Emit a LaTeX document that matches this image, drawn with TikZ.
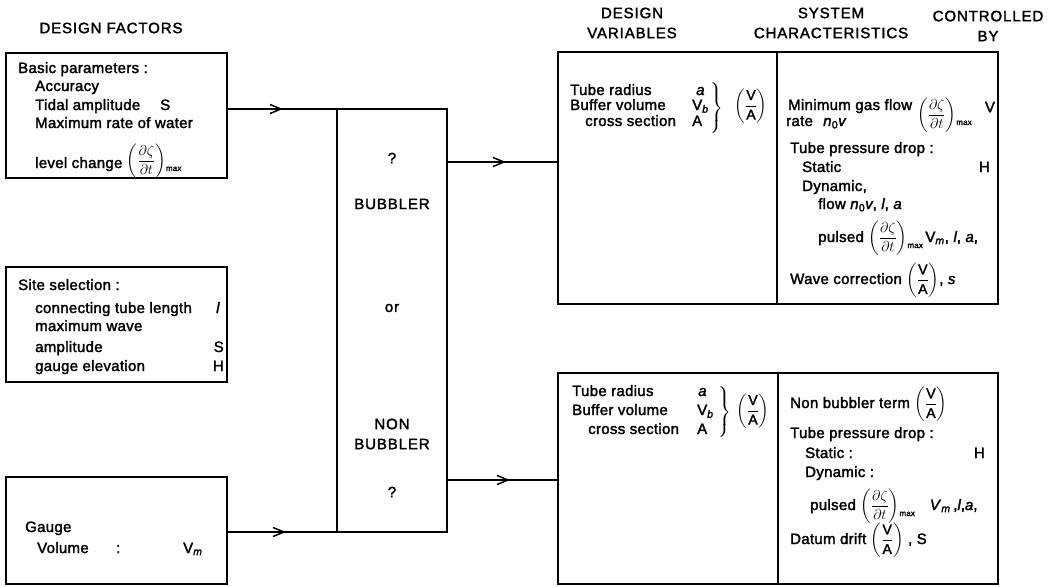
\documentclass[tikz,border=0pt]{standalone}
\usepackage{amsmath}
\usepackage{fontspec}
\setmainfont{Liberation Sans}[FakeBold=2]
\usetikzlibrary{arrows.meta}
\newcommand\mx{\raisebox{-6pt}{\fontsize{8}{8}\selectfont max}}
\newcommand\DZ{{\fontsize{14}{16}\selectfont$\left(\dfrac{\partial\zeta}{\partial t}\right)$}\mx}
\newcommand\VA{{\fontsize{14}{16}\selectfont$\left(\dfrac{\mbox{V}}{\mbox{A}}\right)$}}
\newcommand\ita[1]{\textit{#1}}
\begin{document}
\begin{tikzpicture}[x=1pt,y=-1pt,
  box/.style={draw, line width=2.3pt, inner sep=0pt, outer sep=0pt, anchor=north west},
  tx/.style={anchor=base west, inner sep=0pt, font=\fontsize{15}{18}\selectfont\addfontfeatures{LetterSpace=2}},
  tr/.style={tx, anchor=base east},
  tc/.style={tx, anchor=center},
  hd/.style={align=center, inner sep=0pt, font=\fontsize{15}{20}\selectfont\addfontfeatures{LetterSpace=6}},
  conn/.style={line width=1.1pt},
  head/.style={line width=1.1pt, -{Straight Barb[length=11pt,width=9pt,line width=1.5pt]}}]
\useasboundingbox (0,0) rectangle (1056,586);

% headers
\node[hd] (h1) at (111,28) {DESIGN FACTORS};
\node[hd] (h2) at (632,23) {DESIGN\\VARIABLES};
\node[hd] (h3) at (831,23) {SYSTEM\\CHARACTERISTICS};
\node[hd] (h4) at (988,26) {CONTROLLED\\BY};

% boxes
\node[box, minimum width=221pt, minimum height=125pt] (f1) at (6,53) {};
\node[box, minimum width=221pt, minimum height=115pt] (f2) at (6,267) {};
\node[box, minimum width=221pt, minimum height=107pt] (f3) at (6,477) {};
\node[box, minimum width=110pt, minimum height=423pt] (mid) at (337,109) {};
\node[box, minimum width=219pt, minimum height=252pt] (dv1) at (558,52) {};
\node[box, minimum width=221pt, minimum height=252pt] (sc1) at (777,52) {};
\node[box, minimum width=220pt, minimum height=211pt] (dv2) at (558,373) {};
\node[box, minimum width=220pt, minimum height=211pt] (sc2) at (778,373) {};

% connectors
\coordinate (a1) at (447,162);
\coordinate (a2) at (447,480);
\coordinate (m1) at (283,109);
\coordinate (m2) at (286,532);
\coordinate (m3) at (506,162);
\coordinate (m4) at (510,480);
\draw[conn] (f1.east |- mid.north west) -- (mid.north west);
\draw[head] (f1.east |- mid.north west) -- (m1);
\draw[conn] (f3.east |- mid.south west) -- (mid.south west);
\draw[head] (f3.east |- mid.south west) -- (m2);
\draw[conn] (a1) -- (dv1.west |- a1);
\draw[head] (a1) -- (m3);
\draw[conn] (a2) -- (dv2.west |- a2);
\draw[head] (a2) -- (m4);

% box 1
\node[tx] (t11) at (18,73) {Basic parameters :};
\node[tx] (t12) at (35,91) {Accuracy};
\node[tx] (t13) at (35,110) {Tidal amplitude};
\node[tx] (t13s) at (160,110) {S};
\node[tx] (t14) at (35,128) {Maximum rate of water};
\node[tx] (t15) at (35,168) {level change \raisebox{3pt}{\DZ}};

% box 2
\node[tx] (t21) at (18,290) {Site selection :};
\node[tx] (t22) at (35,313) {connecting tube length};
\node[tx] (t22l) at (216,313) {\ita{l}};
\node[tx] (t23) at (35,331) {maximum wave};
\node[tx] (t24) at (35,352) {amplitude};
\node[tr] (t24s) at (224,352) {S};
\node[tx] (t25) at (35,371) {gauge elevation};
\node[tr] (t25h) at (224,371) {H};

% box 3
\node[tx] (t31) at (25,532) {Gauge};
\node[tx] (t32) at (37,553) {Volume};
\node[tx] (t32c) at (116,553) {:};
\node[tx] (t32v) at (183,553) {V\textsubscript{\ita{m}}};

% middle box
\node[hd] (q1) at (392,158) {?};
\node[hd] (bub) at (392,204) {BUBBLER};
\node[hd] (or) at (392,308) {or};
\node[hd] (nbub) at (392,434) {NON\\BUBBLER};
\node[hd] (q2) at (392,492) {?};

% design variables, top
\node[tx] (u1) at (570,95) {Tube radius};
\node[tx] (u1a) at (696,95) {\ita{a}};
\node[tx] (u2) at (570,110) {Buffer volume};
\node[tx] (u2v) at (692,110) {V\textsubscript{\ita{b}}};
\node[tx] (u3) at (585,126) {cross section};
\node[tx] (u3a) at (692,126) {A};
\node[tc] (u4) at (716,108) {$\left.\vrule height 22pt depth 22pt width 0pt\right\}$};
\node[tc] (u5) at (751,106) {\VA};

% system characteristics, top
\node[tx] (s1) at (788,110) {Minimum gas flow};
\node[tx] (s2) at (786,126) {rate};
\node[tx] (s2n) at (823,126) {\ita{n}\textsubscript{0}\ita{v}};
\node[tx] (s1d) at (917,119) {\DZ};
\node[tc] (s1v) at (990,107) {V};
\node[tx] (s3) at (790,153) {Tube pressure drop :};
\node[tx] (s4) at (802,172) {Static};
\node[tr] (s4h) at (990,172) {H};
\node[tx] (s5) at (802,191) {Dynamic,};
\node[tx] (s6) at (818,209) {flow \ita{n}\textsubscript{0}\ita{v}, \ita{l}, \ita{a}};
\node[tx] (s7) at (818,242) {pulsed \DZ\,V\textsubscript{\ita{m}}, \ita{l}, \ita{a},};
\node[tx] (s8) at (790,284) {Wave correction \VA, \ita{s}};

% design variables, bottom
\node[tx] (v1) at (572,396) {Tube radius};
\node[tx] (v1a) at (698,396) {\ita{a}};
\node[tx] (v2) at (572,415) {Buffer volume};
\node[tx] (v2v) at (697,415) {V\textsubscript{\ita{b}}};
\node[tx] (v3) at (588,434) {cross section};
\node[tx] (v3a) at (697,434) {A};
\node[tc] (v4) at (724,412) {$\left.\vrule height 22pt depth 22pt width 0pt\right\}$};
\node[tc] (v5) at (753,411) {\VA};

% system characteristics, bottom
\node[tx] (w1) at (790,408) {Non bubbler term \VA};
\node[tx] (w2) at (790,438) {Tube pressure drop :};
\node[tx] (w3) at (805,458) {Static :};
\node[tr] (w3h) at (985,458) {H};
\node[tx] (w4) at (805,477) {Dynamic :};
\node[tx] (w5) at (810,510) {pulsed \DZ\quad\ita{V}\textsubscript{\ita{m}}\,,\ita{l},\ita{a},};
\node[tx] (w6) at (790,544) {Datum drift \VA\ , S};
\end{tikzpicture}
\end{document}
